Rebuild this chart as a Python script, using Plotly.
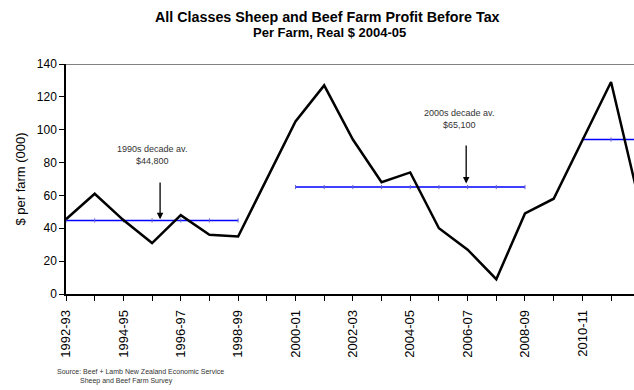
import plotly.graph_objects as go

categories = ["1992-93", "1993-94", "1994-95", "1995-96", "1996-97", "1997-98", "1998-99",
              "1999-00", "2000-01", "2001-02", "2002-03", "2003-04", "2004-05", "2005-06",
              "2006-07", "2007-08", "2008-09", "2009-10", "2010-11", "2011-12", "2012-13"]
profit = [45.5, 61, 45, 31, 48, 36, 35, 70, 105, 127, 94, 68, 74, 40, 27, 9, 49, 58, 94, 129, 55]

avg_1990s = 44.8
avg_2000s = 65.1
avg_2010s = 94.0
span_1990s = (0, 6)
span_2000s = (8, 16)
span_2010s = (18, 20)

W, H = 634, 390
ML, MR, MT, MB = 66, 0, 64, 96

fig = go.Figure()

def avg_trace(span, val):
    xs = list(range(span[0], span[1] + 1))
    return go.Scatter(x=xs, y=[val] * len(xs), mode="lines+markers",
                      line=dict(color="#0000FF", width=1.5),
                      marker=dict(symbol="line-ns-open", size=3, color="#6666CC",
                                  line=dict(color="#6666CC", width=1)),
                      hoverinfo="skip", showlegend=False)

fig.add_trace(avg_trace(span_1990s, avg_1990s))
fig.add_trace(avg_trace(span_2000s, avg_2000s))
fig.add_trace(avg_trace(span_2010s, avg_2010s))

fig.add_trace(go.Scatter(x=list(range(len(profit))), y=profit, mode="lines",
                         line=dict(color="black", width=2.5), showlegend=False))

fig.update_layout(
    width=W, height=H,
    margin=dict(l=ML, r=MR, t=MT, b=MB, autoexpand=False),
    paper_bgcolor="white", plot_bgcolor="white",
    font=dict(family="Liberation Sans, Arial, sans-serif", color="black"),
    showlegend=False,
)

fig.update_xaxes(range=[0, 19.8], tickmode="array", tickvals=list(range(len(categories))),
                 ticktext=[c if i % 2 == 0 else "" for i, c in enumerate(categories)],
                 tickangle=-90, ticks="outside", ticklen=5, tickcolor="black",
                 showline=True, linecolor="black", linewidth=1.5, showgrid=False,
                 zeroline=False, tickfont=dict(size=13), automargin=False,
                 ticklabelstandoff=4)
fig.update_yaxes(range=[0, 140], dtick=20, ticks="outside", ticklen=5, tickcolor="black",
                 showline=True, linecolor="black", linewidth=1.5, showgrid=False,
                 zeroline=False, tickfont=dict(size=12), automargin=False,
                 title=dict(text="$ per farm (000)", font=dict(size=13), standoff=8))

# top border
fig.add_shape(type="line", xref="paper", yref="y", x0=0, x1=1, y0=140, y1=140,
              line=dict(color="#808080", width=2))

pw = W - ML - MR
ph = H - MT - MB

def py(pix):
    return (H - MB - pix) / ph

def px(pix):
    return (pix - ML) / pw

fig.add_annotation(xref="paper", yref="paper", x=px(327), y=py(17), xanchor="center",
                   yanchor="middle", showarrow=False,
                   text="<b>All Classes Sheep and Beef Farm Profit Before Tax</b>",
                   font=dict(size=14.3))
fig.add_annotation(xref="paper", yref="paper", x=px(329), y=py(33), xanchor="center",
                   yanchor="middle", showarrow=False,
                   text="<b>Per Farm, Real $ 2004-05</b>", font=dict(size=13))

fig.add_annotation(xref="paper", yref="paper", x=px(55), y=py(371), xanchor="left",
                   yanchor="middle", showarrow=False,
                   text="Source: Beef + Lamb New Zealand Economic Service",
                   font=dict(size=7, color="#333333"))
fig.add_annotation(xref="paper", yref="paper", x=px(78), y=py(381), xanchor="left",
                   yanchor="middle", showarrow=False,
                   text="Sheep and Beef Farm Survey",
                   font=dict(size=7, color="#333333"))

fig.add_annotation(xref="x", yref="y", x=3.0, y=84.6, showarrow=False,
                   text="1990s decade av.<br>$44,800",
                   font=dict(size=9, color="#333333"))
fig.add_annotation(xref="x", yref="y", x=13.7, y=106.8, showarrow=False,
                   text="2000s decade av.<br>$65,100",
                   font=dict(size=9, color="#333333"))

fig.add_annotation(xref="x", yref="y", x=3.28, y=45.5, axref="x", ayref="y", ax=3.28, ay=68.8,
                   showarrow=True, arrowhead=2, arrowsize=1, arrowwidth=1.3,
                   arrowcolor="black", text="", standoff=0)
fig.add_annotation(xref="x", yref="y", x=13.95, y=67.2, axref="x", ayref="y", ax=13.95, ay=91.3,
                   showarrow=True, arrowhead=2, arrowsize=1, arrowwidth=1.3,
                   arrowcolor="black", text="", standoff=0)

fig.write_html("out.html", config={"displayModeBar": False},
               post_script="document.body.style.margin='0';document.body.style.padding='0';")
